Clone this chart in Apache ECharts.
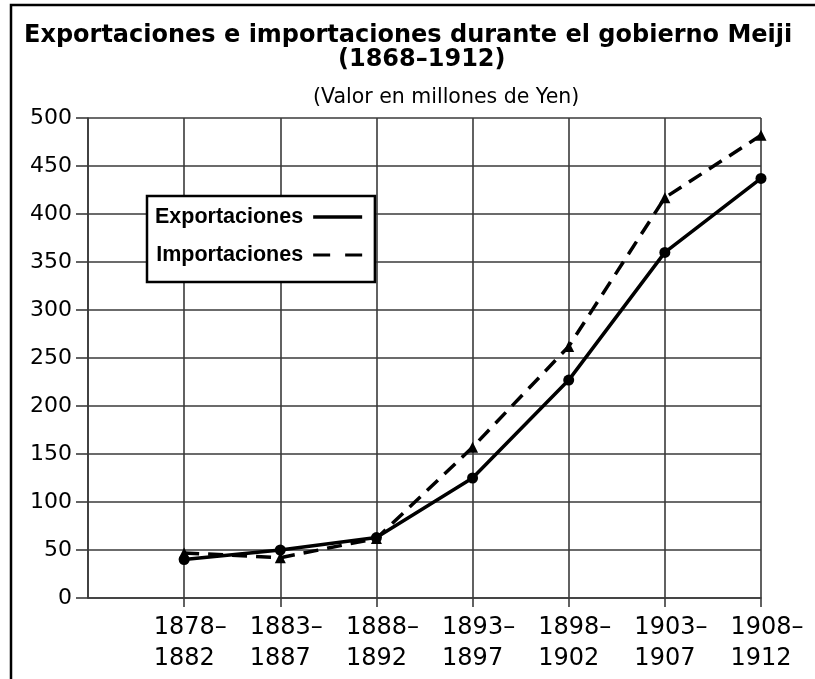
<!DOCTYPE html>
<html>
<head>
<meta charset="utf-8">
<title>Exportaciones e importaciones durante el gobierno Meiji</title>
<script src="https://cdn.jsdelivr.net/npm/echarts@6/dist/echarts.min.js"></script>
<style>
  html, body { margin: 0; padding: 0; background: #fff; }
  #chart { width: 815px; height: 679px; }
</style>
</head>
<body>
<div id="chart"></div>
<script>
// primer periodo (1868-1877) sin datos, solo ocupa el eje
var periodos = ["", "1878–\n1882", "1883–\n1887", "1888–\n1892", "1893–\n1897", "1898–\n1902", "1903–\n1907", "1908–\n1912"];
var exportaciones = [null, 40, 50, 63, 125, 227, 360, 437];
var importaciones = [null, 47, 42, 62, 157, 262, 417, 482];
var valoresEje = [0, 50, 100, 150, 200, 250, 300, 350, 400, 450, 500];

var gridColor = "#3a3a3a";

var chart = echarts.init(document.getElementById("chart"));

chart.setOption({
  animation: false,
  backgroundColor: "#fff",
  title: [
    {
      text: "Exportaciones e importaciones durante el gobierno Meiji",
      left: 24,
      top: 24,
      padding: 0,
      textStyle: { fontFamily: "DejaVu Sans", fontWeight: "bold", fontSize: 24, color: "#000" }
    },
    {
      text: "(1868–1912)",
      left: 338,
      top: 48,
      padding: 0,
      textStyle: { fontFamily: "DejaVu Sans", fontWeight: "bold", fontSize: 24, color: "#000" }
    },
    {
      text: "(Valor en millones de Yen)",
      left: 313,
      top: 87,
      padding: 0,
      textStyle: { fontFamily: "DejaVu Sans", fontWeight: "normal", fontSize: 20.5, color: "#000" }
    }
  ],
  graphic: [
    {
      type: "rect",
      shape: { x: 11, y: 5, width: 900, height: 800 },
      style: { fill: null, stroke: "#000", lineWidth: 2.5 },
      silent: true
    }
  ],
  legend: {
    orient: "vertical",
    left: 147,
    top: 196,
    align: "right",
    itemWidth: 49,
    itemHeight: 20,
    itemGap: 16,
    padding: [10, 11, 16, 8],
    backgroundColor: "#fff",
    borderColor: "#000",
    borderWidth: 2.5,
    borderRadius: 0,
    itemStyle: { opacity: 0 },
    textStyle: {
      fontFamily: "Liberation Sans",
      fontWeight: "bold",
      fontSize: 21.5,
      color: "#000",
      padding: [0, 5, 0, 0]
    },
    data: [
      { name: "Exportaciones", lineStyle: { width: 3.5, type: "solid" } },
      { name: "Importaciones", lineStyle: { width: 3, type: [17, 15] } }
    ]
  },
  grid: {
    left: 88,
    right: 54,
    top: 118,
    bottom: 81
  },
  xAxis: {
    type: "category",
    data: periodos,
    boundaryGap: false,
    axisLine: { show: true, lineStyle: { color: gridColor, width: 1.6 } },
    axisTick: {
      show: true,
      length: 9,
      interval: function (index) { return index > 0; },
      lineStyle: { color: gridColor, width: 1.6 }
    },
    axisLabel: {
      interval: 0,
      margin: 14,
      fontFamily: "DejaVu Sans",
      fontSize: 24,
      color: "#000",
      width: 61,
      overflow: "none",
      hideOverlap: false,
      formatter: function (value) {
        return value.split("\n").map(function (s) { return "{a|" + s + "}"; }).join("\n");
      },
      rich: {
        a: { align: "left", fontFamily: "DejaVu Sans", fontSize: 24, lineHeight: 31, color: "#000" }
      }
    },
    splitLine: { show: true, interval: 0, lineStyle: { color: gridColor, width: 1.6 } }
  },
  yAxis: {
    type: "value",
    min: valoresEje[0],
    max: valoresEje[valoresEje.length - 1],
    interval: 50,
    axisLine: { show: true, lineStyle: { color: gridColor, width: 1.6 } },
    axisTick: { show: true, length: 12, lineStyle: { color: gridColor, width: 1.6 } },
    axisLabel: {
      margin: 16,
      fontFamily: "DejaVu Sans",
      fontSize: 22,
      color: "#000"
    },
    splitLine: { show: true, lineStyle: { color: gridColor, width: 1.6 } }
  },
  series: [
    {
      name: "Importaciones",
      type: "line",
      data: importaciones,
      symbol: "triangle",
      symbolSize: 11,
      itemStyle: { color: "#000" },
      lineStyle: { color: "#000", width: 3.5, type: [15, 9] },
      z: 3
    },
    {
      name: "Exportaciones",
      type: "line",
      data: exportaciones,
      symbol: "circle",
      symbolSize: 11,
      itemStyle: { color: "#000" },
      lineStyle: { color: "#000", width: 3.5 },
      z: 4
    }
  ]
});
</script>
</body>
</html>
